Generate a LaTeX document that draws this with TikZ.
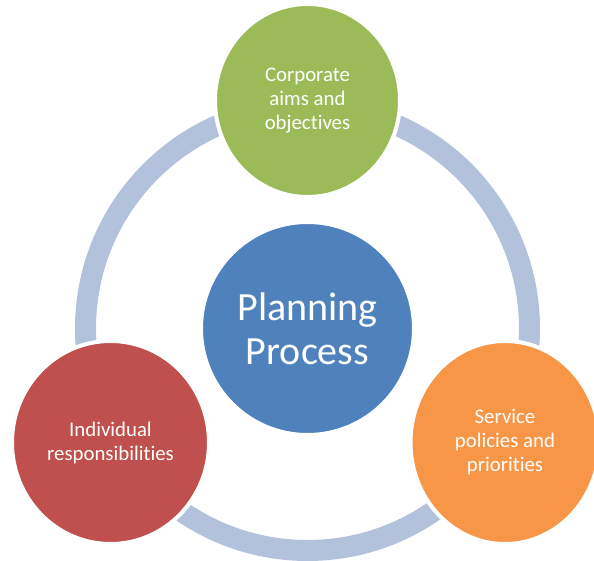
\documentclass[tikz,border=0pt]{standalone}
\usepackage{fontspec}
\setmainfont{Carlito}[Ligatures={NoCommon}]
\usetikzlibrary{shapes.geometric}
\definecolor{ringc}{HTML}{B2C1DC}
\definecolor{planblue}{HTML}{4F81BD}
\definecolor{aimgreen}{HTML}{9BBB59}
\definecolor{servorange}{HTML}{F79646}
\definecolor{indred}{HTML}{C0504D}
\tikzset{
  bubble/.style={ellipse, draw=white, line width=4pt, inner sep=0pt, text=white,
    align=center, font=\fontsize{20.8}{24}\selectfont},
  ring/.style={draw=ringc, line width=21pt}
}
\begin{document}
\begin{tikzpicture}[x=1pt,y=-1pt]
\useasboundingbox (0,0) rectangle (594,561);
\clip (0,0) rectangle (594,561);
\coordinate (c) at (307.5,328.5);
\draw[ring] (c) circle[radius=222];
\node[bubble, fill=planblue, minimum width=213pt, minimum height=213pt,
  font=\fontsize{40}{44}\selectfont] (plan) at (c) {Planning\\Process};
\node[bubble, fill=aimgreen, minimum width=185pt, minimum height=193pt] (aims) at (307.5,100.5) {Corporate\\aims and\\objectives};
\node[bubble, fill=servorange, minimum width=189pt, minimum height=203pt] (serv) at (505,442.5) {Service\\policies and\\priorities};
\node[bubble, fill=indred, minimum width=197pt, minimum height=203pt] (ind) at (110.5,442.5) {Individual\\responsibilities};
\end{tikzpicture}
\end{document}
